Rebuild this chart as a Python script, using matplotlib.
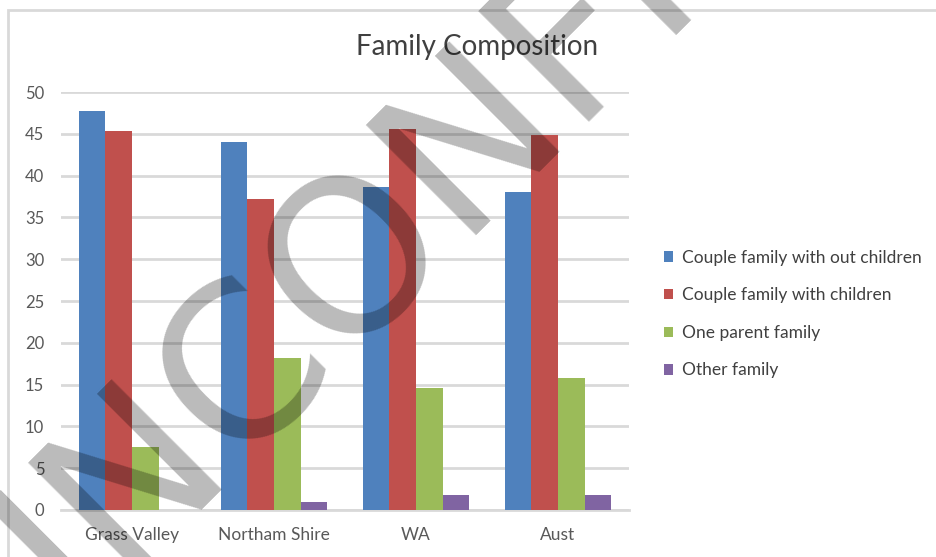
import numpy as np
import matplotlib
matplotlib.use('Agg')
import matplotlib.pyplot as plt
from matplotlib.patches import Rectangle

# Data
regions = ['Grass Valley', 'Northam Shire', 'WA', 'Aust']
series = ['Couple family with out children', 'Couple family with children',
          'One parent family', 'Other family']
couple_no_children = [47.7, 44.0, 38.6, 38.0]
couple_children = [45.3, 37.2, 45.6, 44.9]
one_parent = [7.5, 18.2, 14.6, 15.8]
other_family = [0.0, 1.0, 1.8, 1.8]
yticks = [0, 5, 10, 15, 20, 25, 30, 35, 40, 45, 50]

colors = ['#4F81BD', '#C0504D', '#9BBB59', '#8064A2']
values = [couple_no_children, couple_children, one_parent, other_family]

plt.rcParams['font.family'] = ['Lato', 'DejaVu Sans']

fig = plt.figure(figsize=(9.37, 5.57), dpi=100)
ax = fig.add_axes([0.0651, 0.0844, 0.6062, 0.7504])

# Grouped bars
x = np.arange(len(regions))
width = 0.1875
for i, (vals, name) in enumerate(zip(values, series)):
    ax.bar(x + (i - 1.5) * width, vals, width, color=colors[i], label=name, zorder=3)

ax.set_xlim(-0.5, 3.5)
ax.set_ylim(0, 50)
ax.set_yticks(yticks)
ax.set_xticks(x)
ax.set_xticklabels(regions)
ax.tick_params(axis='both', length=0, colors='#595959')
ax.tick_params(axis='y', pad=12, labelsize=12)
ax.tick_params(axis='x', pad=12, labelsize=12.5)
ax.yaxis.grid(True, color='#d9d9d9', linewidth=2, zorder=0)
for side in ['top', 'right', 'left']:
    ax.spines[side].set_visible(False)
ax.spines['bottom'].set_color('#d9d9d9')
ax.spines['bottom'].set_linewidth(2)

fig.text(0.509, 0.915, 'Family Composition', ha='center', va='center',
         fontsize=20, color='#404040')

ax.legend(loc='center left', bbox_to_anchor=(0.699, 0.436),
          bbox_transform=fig.transFigure, frameon=False, fontsize=12.5,
          handlelength=0.55, handleheight=0.55, handletextpad=0.5,
          labelspacing=1.24, borderpad=0, labelcolor='#404040')

# Chart frame
fig.patches.append(Rectangle((8 / 937, -0.05), 1.0, (557 - 10) / 557 + 0.05,
                             transform=fig.transFigure, fill=False,
                             edgecolor='#d9d9d9', linewidth=2))

# Watermark
fig.text(8 / 937, -128 / 557, 'UNCONFIRMED', rotation=45, rotation_mode='anchor',
         ha='left', va='baseline', fontsize=154, family='DejaVu Sans',
         color='black', alpha=0.27, zorder=10)

fig.savefig('out.png', dpi=100)
